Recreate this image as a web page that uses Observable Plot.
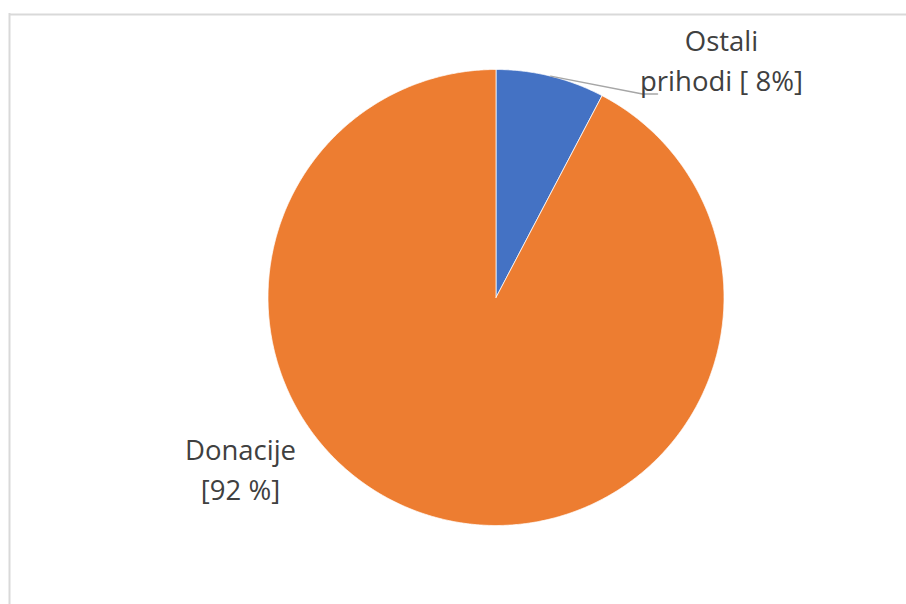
<!DOCTYPE html>
<html>
<head>
<meta charset="utf-8">
<script src="https://cdn.jsdelivr.net/npm/d3@7"></script>
<script src="https://cdn.jsdelivr.net/npm/@observablehq/plot@0.6"></script>
<style>
  html, body { margin: 0; padding: 0; background: #fff; }
  #chart svg { display: block; }
</style>
</head>
<body>
<div id="chart"></div>
<script>
// Data
const categories = ["Ostali prihodi", "Donacije"];
const values = [7.7, 92.3];
const labels = ["Ostali\nprihodi [ 8%]", "Donacije\n[92 %]"];
const colors = ["#4472C4", "#ED7D31"];

// Layout
const W = 906, H = 604;
const cx = 495.5, cy = 297, R = 228;
const fontFamily = "'Open Sans', sans-serif";
const fontSize = 27.5;

const total = d3.sum(values);
const slices = [];
let acc = 0;
values.forEach((v, i) => {
  const a0 = acc / total * 2 * Math.PI;
  acc += v;
  const a1 = acc / total * 2 * Math.PI;
  const pts = [{x: cx, y: cy}];
  const n = Math.max(2, Math.ceil((a1 - a0) / 0.005));
  for (let k = 0; k <= n; k++) {
    const a = a0 + (a1 - a0) * k / n;
    pts.push({x: cx + R * Math.sin(a), y: cy - R * Math.cos(a)});
  }
  pts.push({x: cx, y: cy});
  slices.push({name: categories[i], color: colors[i], pts, a0, a1});
});

// leader line for the small slice: from mid-arc point to the label
const aMid0 = (slices[0].a0 + slices[0].a1) / 2;
const leader = [
  {x: cx + R * Math.sin(aMid0), y: cy - R * Math.cos(aMid0)},
  {x: 642, y: 93.5},
  {x: 657, y: 93.5}
];

const labelPos = [
  {x: 721, y: 58, text: labels[0]},
  {x: 240, y: 467, text: labels[1]}
];

const marks = [
  Plot.ruleY([14], {x1: 9, x2: W, stroke: "#d9d9d9", strokeWidth: 2}),
  Plot.ruleX([9], {y1: 13, y2: H, stroke: "#d9d9d9", strokeWidth: 2}),
  ...slices.map(s => Plot.line(s.pts, {x: "x", y: "y", fill: s.color, stroke: "#ffffff", strokeWidth: 0.75, strokeLinejoin: "round", curve: "linear"})),
  Plot.line(leader, {x: "x", y: "y", stroke: "#a6a6a6", strokeWidth: 1.5}),
  Plot.text(labelPos, {x: "x", y: "y", text: "text", textAnchor: "middle", lineAnchor: "middle", lineHeight: 40 / fontSize, fontSize, fill: "#404040", fontFamily})
];

const chart = Plot.plot({
  width: W, height: H,
  margin: 0,
  x: {domain: [0, W], range: [0, W], axis: null},
  y: {domain: [0, H], range: [0, H], axis: null},
  style: {background: "#fff", fontFamily},
  marks
});
document.getElementById("chart").appendChild(chart);
</script>
</body>
</html>
